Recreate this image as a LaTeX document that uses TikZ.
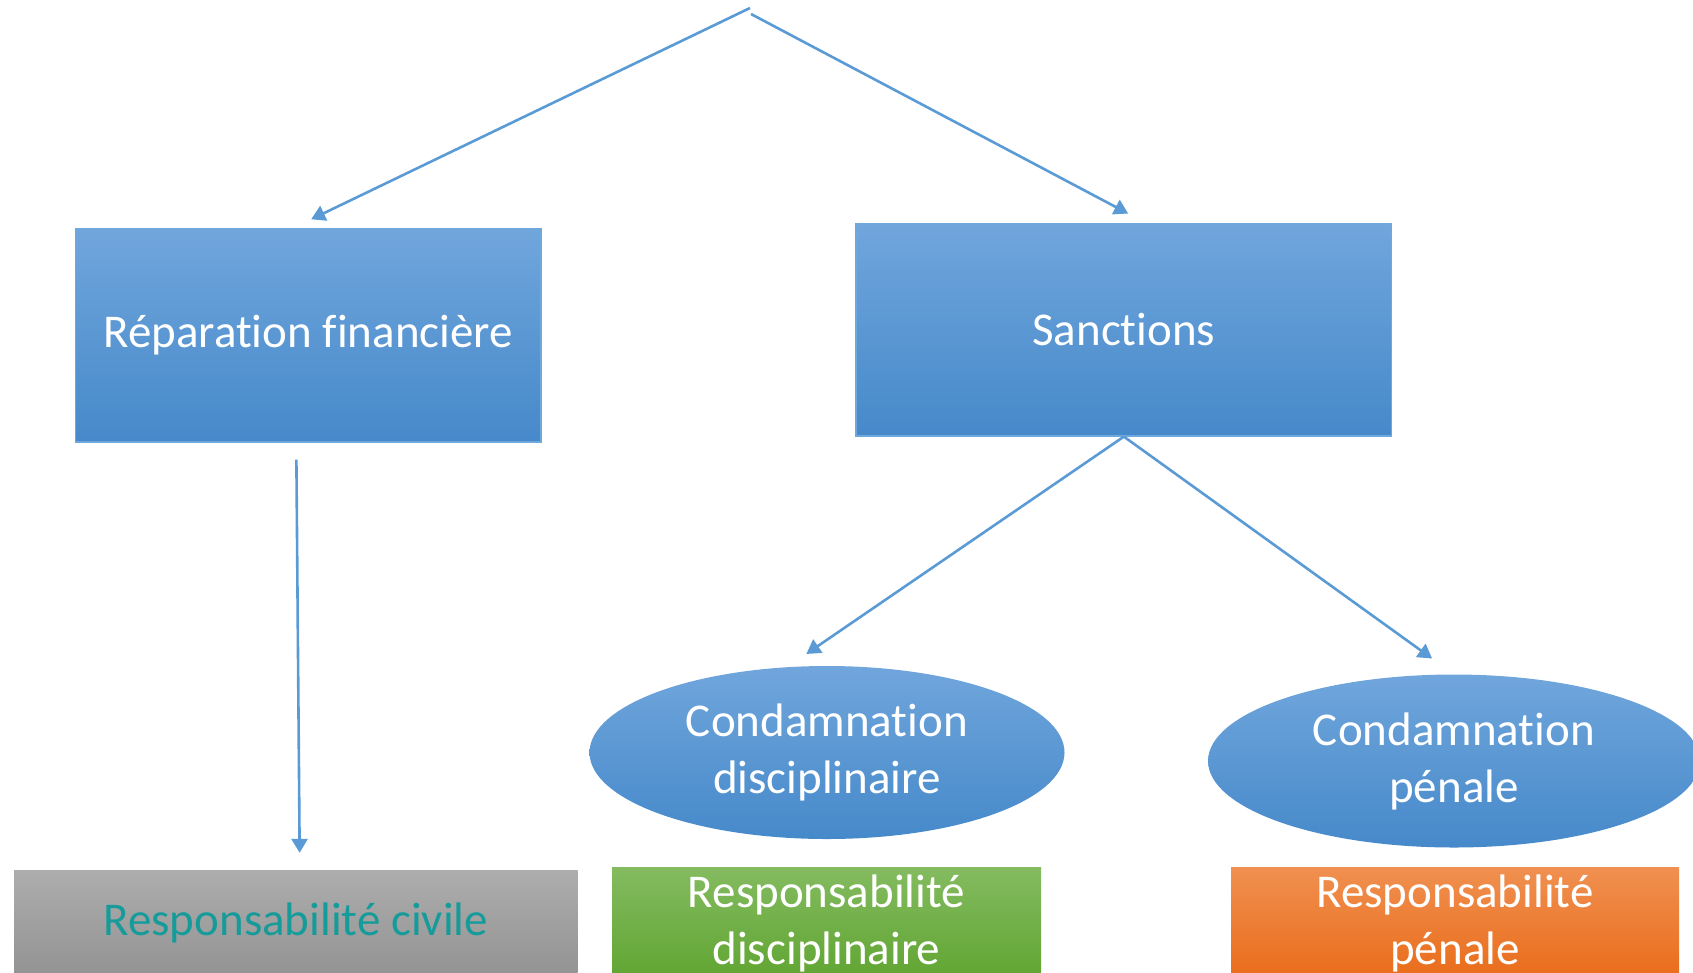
\documentclass[tikz,border=0pt]{standalone}
\usepackage{fontspec}
\setmainfont[Ligatures={NoCommon}]{Carlito}
\usetikzlibrary{shapes.geometric,arrows.meta}
\definecolor{arrblue}{HTML}{5B9BD5}
\definecolor{btop}{HTML}{70A6DC}
\definecolor{bbot}{HTML}{4689CA}
\definecolor{bedge}{HTML}{6FA8DC}
\definecolor{gtop}{HTML}{ADADAD}
\definecolor{gbot}{HTML}{939393}
\definecolor{grtop}{HTML}{84BB60}
\definecolor{grbot}{HTML}{60A532}
\definecolor{otop}{HTML}{F09050}
\definecolor{obot}{HTML}{E96C1A}
\definecolor{teal}{HTML}{159C9A}
\tikzset{
  bigfont/.style={font=\fontsize{47}{57}\selectfont},
  bluebox/.style={rectangle, draw=bedge, line width=1.2pt, top color=btop, bottom color=bbot, text=white, bigfont, inner sep=0pt},
  blueell/.style={ellipse, top color=btop, bottom color=bbot, text=white, bigfont, align=center, inner sep=0pt},
  botbox/.style={rectangle, inner sep=0pt, bigfont, align=center},
  arr/.style={draw=arrblue, line width=2.6pt, -{Triangle[length=14pt,width=16pt]}},
}
\begin{document}
\begin{tikzpicture}[x=1pt,y=-1pt]
\useasboundingbox (0,0) rectangle (1693,972);
\clip (0,0) rectangle (1693,972);
\node[bluebox, minimum width=465.5pt, minimum height=213pt] (rep) at (308.25,335.5) {Réparation financière};
\node[bluebox, minimum width=535.7pt, minimum height=212.5pt] (san) at (1123.85,329.75) {Sanctions};
\node[blueell, minimum width=475pt, minimum height=173pt] (cd) at (827,752.5) {Condamnation\\disciplinaire};
\node[blueell, minimum width=492pt, minimum height=173pt] (cp) at (1454,761) {Condamnation\\pénale};
\node[botbox, top color=gtop, bottom color=gbot, text=teal, minimum width=563.6pt, minimum height=106pt] (civ) at (295.8,923) {Responsabilité civile};
\node[botbox, top color=grtop, bottom color=grbot, text=white, minimum width=429pt, minimum height=112pt] (dis) at (826.5,923) {Responsabilité\\disciplinaire};
\node[botbox, top color=otop, bottom color=obot, text=white, minimum width=448pt, minimum height=112pt] (pen) at (1455,923) {Responsabilité\\pénale};
\coordinate (top1) at (750,8);
\coordinate (top2) at (751,14);
\draw[arr, shorten >=21pt] (top1) -- ([xshift=-16pt]rep.north);
\draw[arr, shorten >=20pt] (top2) -- ([xshift=22pt]san.north);
\draw[arr, shorten <=17pt, shorten >=17pt] ([xshift=-12pt]rep.south) -- ([xshift=4pt]civ.north);
\draw[arr, shorten >=21pt] (san.south) -- ([xshift=-38pt]cd.north);
\draw[arr, shorten >=27pt] (san.south) -- (cp.north);
\end{tikzpicture}
\end{document}
